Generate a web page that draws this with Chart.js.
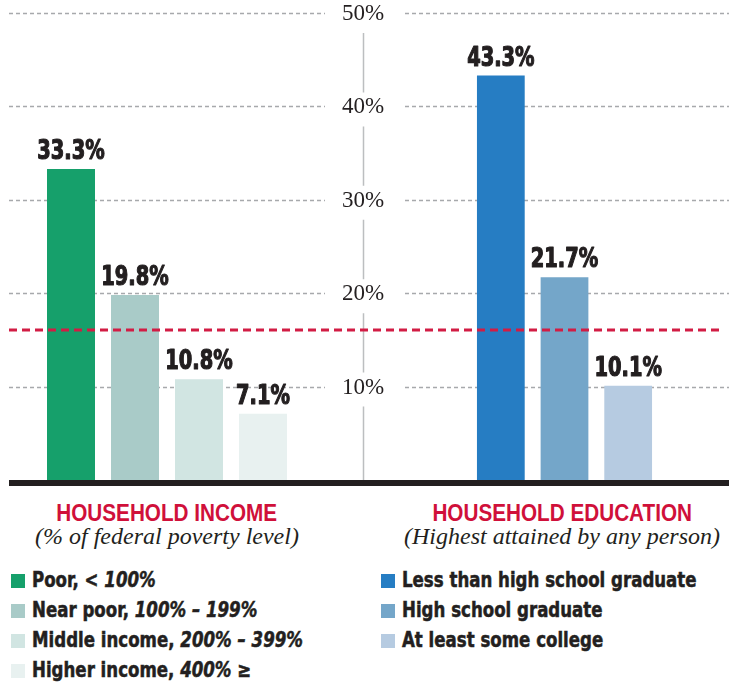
<!DOCTYPE html>
<html>
<head>
<meta charset="utf-8">
<script src="https://cdn.jsdelivr.net/npm/chart.js@4.4.0/dist/chart.umd.min.js"></script>
<style>
  body { margin: 0; background: #fff; }
  #page { position: relative; width: 729px; height: 687px; overflow: hidden; background: #fff; }
  #page canvas { position: absolute; left: 0; top: 0; }
  .title { position: absolute; text-align: center; color: #d0103a; font: bold 23px "Liberation Sans", Arial, sans-serif; line-height: 23px; white-space: nowrap; }
  .title span { display: inline-block; transform: scaleX(0.9); }
  .sub { position: absolute; text-align: center; color: #231f20; font: italic 24px "Liberation Serif", serif; line-height: 23px; white-space: nowrap; }
  .row { position: absolute; color: #231f20; font: bold 21px "DejaVu Sans Condensed", "DejaVu Sans", sans-serif; line-height: 21px; white-space: nowrap; -webkit-text-stroke: 0.5px #231f20; }
  .row span.txt { display: inline-block; transform: scaleX(0.88); transform-origin: left center; }
  .sw { position: absolute; width: 14px; height: 14px; }
</style>
</head>
<body>
<div id="page">
  <canvas id="incomeChart" width="729" height="500"></canvas>
  <canvas id="eduChart" width="729" height="500"></canvas>
  <div class="title" style="left:0;width:334px;top:502px"><span>HOUSEHOLD INCOME</span></div>
  <div class="sub" style="left:0;width:334px;top:525px">(% of federal poverty level)</div>
  <div class="title" style="left:400px;width:324px;top:502px"><span>HOUSEHOLD EDUCATION</span></div>
  <div class="sub" style="left:400px;width:324px;top:525px">(Highest attained by any person)</div>
  <div id="legend"></div>
</div>
<script>
// income groups (% of federal poverty level)
const incomeCats = ["Poor", "Near poor", "Middle income", "Higher income"];
const incomeRanges = ["< 100%", "100% \u2013 199%", "200% \u2013 399%", "400% \u2265"];
const incomeValues = [33.3, 19.8, 10.8, 7.1];
const incomeColors = ["#16a06b", "#a9cbc8", "#d1e5e2", "#e8f1f0"];

// education groups
const eduCats = ["Less than high school graduate", "High school graduate", "At least some college"];
const eduValues = [43.3, 21.7, 10.1];
const eduColors = ["#267dc3", "#74a6c9", "#b6cbe1"];

const yTicks = [10, 20, 30, 40, 50];
const overallRate = 16.1;

const ink = "#231f20";

// gridlines, axis labels and the broken centre axis (behind the bars)
const frame = {
    id: "frame",
    beforeDatasetsDraw(chart) {
        const ctx = chart.ctx;
        const y = chart.scales.y;
        ctx.save();
        ctx.strokeStyle = "#a7a9ac";
        ctx.lineWidth = 1.5;
        ctx.setLineDash([4, 3]);
        yTicks.forEach(v => {
            const py = Math.round(y.getPixelForValue(v)) + 0.5;
            ctx.beginPath();
            ctx.moveTo(9, py); ctx.lineTo(325, py);
            ctx.moveTo(405, py); ctx.lineTo(729, py);
            ctx.stroke();
        });
        ctx.setLineDash([]);
        ctx.strokeStyle = "#bcbec0";
        ctx.beginPath();
        yTicks.forEach(v => {
            const top = y.getPixelForValue(v) + 20;
            const bottom = v === 10 ? y.getPixelForValue(0) : y.getPixelForValue(v - 10) - 14;
            ctx.moveTo(363.5, top); ctx.lineTo(363.5, bottom);
        });
        ctx.stroke();
        ctx.fillStyle = ink;
        ctx.font = '23px "Liberation Serif", serif';
        ctx.textAlign = "center";
        ctx.textBaseline = "middle";
        yTicks.forEach(v => {
            ctx.fillText(v + "%", 363, y.getPixelForValue(v) + 1);
        });
        ctx.restore();
    }
};

// overall rate line and the heavy base line (drawn over the bars)
const overlay = {
    id: "overlay",
    afterDatasetsDraw(chart) {
        const ctx = chart.ctx;
        const y = chart.scales.y;
        ctx.save();
        ctx.strokeStyle = "#d21c44";
        ctx.lineWidth = 3;
        ctx.setLineDash([8, 5]);
        const ry = Math.round(y.getPixelForValue(overallRate));
        ctx.beginPath();
        ctx.moveTo(9, ry); ctx.lineTo(722, ry);
        ctx.stroke();
        ctx.fillStyle = ink;
        ctx.fillRect(9, y.getPixelForValue(0), 720, 6);
        ctx.restore();
    }
};

const valueLabels = {
    id: "valueLabels",
    afterDatasetsDraw(chart) {
        const ctx = chart.ctx;
        const values = chart.data.datasets[0].data;
        ctx.save();
        ctx.fillStyle = ink;
        ctx.strokeStyle = ink;
        ctx.lineWidth = 1.2;
        ctx.lineJoin = "round";
        ctx.font = 'bold 27px "DejaVu Sans Condensed", "DejaVu Sans", sans-serif';
        ctx.textAlign = "center";
        ctx.textBaseline = "alphabetic";
        chart.getDatasetMeta(0).data.forEach((bar, i) => {
            const text = values[i].toFixed(1) + "%";
            ctx.save();
            ctx.translate(bar.x, bar.y - 10);
            ctx.scale(0.8, 1);
            ctx.fillText(text, 0, 0);
            ctx.strokeText(text, 0, 0);
            ctx.restore();
        });
        ctx.restore();
    }
};

function makeChart(id, labels, values, colors, padLeft, padRight, plugins) {
    return new Chart(document.getElementById(id), {
        type: "bar",
        data: {
            labels: labels,
            datasets: [{
                data: values,
                backgroundColor: colors,
                borderWidth: 0,
                barPercentage: 0.75,
                categoryPercentage: 1
            }]
        },
        options: {
            responsive: false,
            animation: false,
            events: [],
            layout: { padding: { left: padLeft, right: padRight, top: 13, bottom: 20 } },
            scales: {
                x: { display: false },
                y: { display: false, min: 0, max: 50 }
            },
            plugins: { legend: { display: false }, tooltip: { enabled: false } }
        },
        plugins: plugins
    });
}

makeChart("incomeChart", incomeCats, incomeValues, incomeColors, 39, 434, [frame, valueLabels]);
makeChart("eduChart", eduCats, eduValues, eduColors, 469, 69, [overlay, valueLabels]);

// legends
const legend = document.getElementById("legend");
function addRow(x, i, color, html) {
    const sw = document.createElement("div");
    sw.className = "sw";
    sw.style.left = x + "px";
    sw.style.top = (574 + i * 30) + "px";
    sw.style.background = color;
    legend.appendChild(sw);
    const row = document.createElement("div");
    row.className = "row";
    row.style.left = (x + 21) + "px";
    row.style.top = (570 + i * 30) + "px";
    row.innerHTML = '<span class="txt">' + html + "</span>";
    legend.appendChild(row);
}
incomeCats.forEach((c, i) => {
    const range = incomeRanges[i].replace("<", "&lt;");
    addRow(11, i, incomeColors[i], c + ", <i>" + range + "</i>");
});
eduCats.forEach((c, i) => addRow(381, i, eduColors[i], c));
</script>
</body>
</html>
